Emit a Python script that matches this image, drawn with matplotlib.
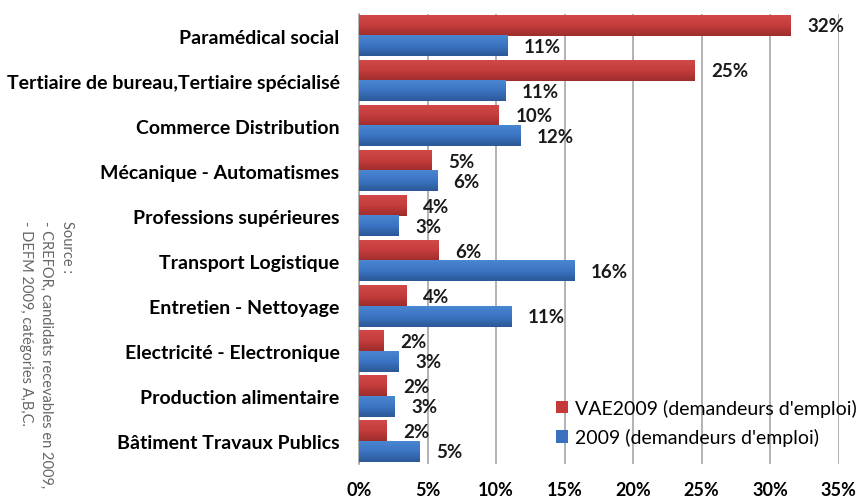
import numpy as np
import matplotlib.pyplot as plt
from matplotlib.colors import LinearSegmentedColormap

# données (en %)
categories = [
    "Paramédical social",
    "Tertiaire de bureau,Tertiaire spécialisé",
    "Commerce Distribution",
    "Mécanique - Automatismes",
    "Professions supérieures",
    "Transport Logistique",
    "Entretien - Nettoyage",
    "Electricité - Electronique",
    "Production alimentaire",
    "Bâtiment Travaux Publics",
]
vae2009 = [31.5, 24.5, 10.2, 5.3, 3.5, 5.8, 3.5, 1.8, 2.0, 2.0]
de2009 = [10.8, 10.7, 11.8, 5.7, 2.9, 15.7, 11.1, 2.9, 2.6, 4.4]
vae_labels = ["32%", "25%", "10%", "5%", "4%", "6%", "4%", "2%", "2%", "2%"]
de_labels = ["11%", "11%", "12%", "6%", "3%", "16%", "11%", "3%", "3%", "5%"]
xticks = [0, 5, 10, 15, 20, 25, 30, 35]

legend_vae = "VAE2009 (demandeurs d'emploi)"
legend_de = "2009 (demandeurs d'emploi)"
source_lines = ["Source :",
                "- CREFOR, candidats recevables en 2009,",
                "- DEFM 2009, catégories A,B,C."]

plt.rcParams['font.family'] = ['Lato', 'DejaVu Sans']

RED = "#C43A3A"
BLUE = "#3A70BE"
red_cmap = LinearSegmentedColormap.from_list("r", ["#D24848", "#C43C3C", "#9E2C2C"])
blue_cmap = LinearSegmentedColormap.from_list("b", ["#4A86D2", "#3B74C2", "#2B5896"])

fig = plt.figure(figsize=(8.62, 5.02), dpi=100)
ax = fig.add_axes([0.4165, 0.074, 0.5565, 0.897])

n = len(categories)
y = np.arange(n)
h = 0.45

b1 = ax.barh(y - h / 2, vae2009, height=h, color=RED, label=legend_vae, zorder=3)
b2 = ax.barh(y + h / 2, de2009, height=h, color=BLUE, label=legend_de, zorder=3)

# dégradé vertical sur chaque barre
grad = np.linspace(0, 1, 64).reshape(-1, 1)
for bars, cmap in [(b1, red_cmap), (b2, blue_cmap)]:
    for p in bars:
        x0, y0, w, hh = p.get_x(), p.get_y(), p.get_width(), p.get_height()
        ax.imshow(grad, cmap=cmap, aspect="auto", interpolation="bicubic",
                  extent=(x0, x0 + w, y0 + hh, y0), zorder=3.1)

# étiquettes de valeur
for i in range(n):
    ax.text(vae2009[i] + 1.2, y[i] - h / 2, vae_labels[i], va="center", ha="left",
            fontsize=13.5, fontweight="bold", color="#1a1a1a", zorder=4)
    ax.text(de2009[i] + 1.2, y[i] + h / 2, de_labels[i], va="center", ha="left",
            fontsize=13.5, fontweight="bold", color="#1a1a1a", zorder=4)

ax.set_ylim(n - 0.5, -0.5)
ax.set_xlim(0, 35)
ax.set_yticks(y)
ax.set_yticklabels(categories, fontsize=14, fontweight="bold")
ax.set_xticks(xticks)
ax.set_xticklabels([f"{t}%" for t in xticks], fontsize=13, fontweight="bold")
ax.tick_params(axis="x", length=0, pad=12)
ax.tick_params(axis="y", length=0, pad=14)

ax.grid(axis="x", color="#A6A6A6", lw=1.2, zorder=0)
for s in ["top", "right", "bottom"]:
    ax.spines[s].set_visible(False)
ax.spines["left"].set_color("#A6A6A6")
ax.spines["left"].set_linewidth(1.2)

leg = ax.legend(loc="lower right", bbox_to_anchor=(1.075, 0.0), frameon=False,
                fontsize=14, handlelength=0.6, handleheight=0.6,
                handletextpad=0.4, labelspacing=0.6)

# source (texte vertical)
for k, line in enumerate(source_lines):
    fig.text(0.078 - k * 0.024, 0.56, line, rotation=-90, va="top", ha="center",
             fontsize=10.5, color="#666666")

fig.savefig("out.png", dpi=100)
